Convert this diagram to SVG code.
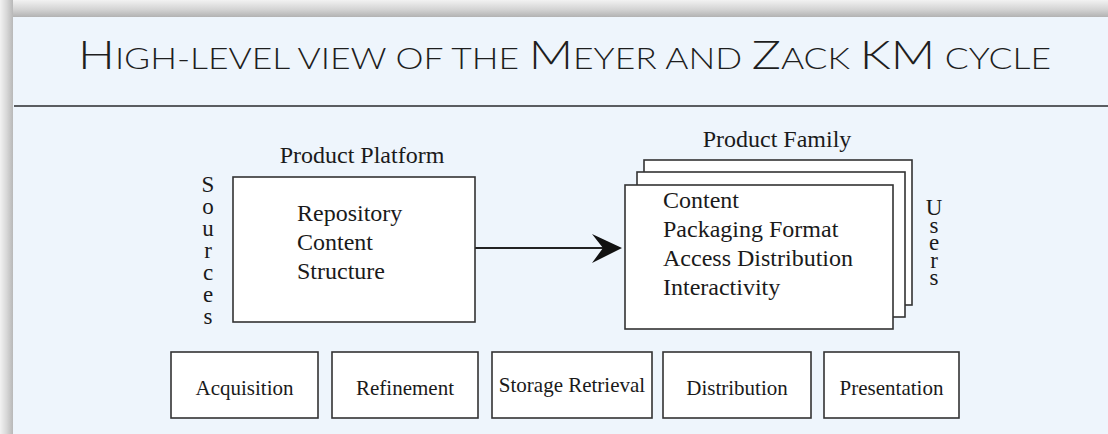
<svg xmlns="http://www.w3.org/2000/svg" width="1108" height="434" viewBox="0 0 1108 434">
  <defs>
    <linearGradient id="topEdge" x1="0" y1="0" x2="0" y2="1">
      <stop offset="0" stop-color="#f2f2f2"/>
      <stop offset="0.55" stop-color="#d4d4d4"/>
      <stop offset="1" stop-color="#b2b2b2"/>
    </linearGradient>
    <linearGradient id="leftEdge" x1="0" y1="0" x2="1" y2="0">
      <stop offset="0" stop-color="#f2f2f2"/>
      <stop offset="0.5" stop-color="#d8d8d8"/>
      <stop offset="1" stop-color="#b8b8b8"/>
    </linearGradient>
    <style>
      .box { fill: #ffffff; stroke: #333333; stroke-width: 1.6; }
      .serif { font-family: "Liberation Serif", "Times New Roman", serif; fill: #1a1a1a; }
      .lbl { font-size: 24px; }
      .step { font-size: 21px; text-anchor: middle; }
      .vert { writing-mode: vertical-rl; text-orientation: upright; }
      .title { font-family: Lato, "Liberation Sans", Arial, sans-serif; font-weight: 300; fill: #1e1e1e; }
      .conn { stroke: #222222; stroke-width: 2; fill: none; }
    </style>
  </defs>

  <!-- slide frame -->
  <rect x="0" y="0" width="1108" height="434" fill="#eef5fc"/>
  <rect x="0" y="0" width="1108" height="17" fill="url(#topEdge)"/>
  <rect x="0" y="0" width="13" height="434" fill="url(#leftEdge)"/>
  <line x1="14" y1="106" x2="1108" y2="106" stroke="#5a5d61" stroke-width="2.2"/>

  <!-- heading in small capitals -->
  <text class="title" x="78" y="69" textLength="973" lengthAdjust="spacingAndGlyphs"><tspan font-size="40">H</tspan><tspan font-size="29">IGH-LEVEL VIEW OF THE </tspan><tspan font-size="40">M</tspan><tspan font-size="29">EYER AND </tspan><tspan font-size="40">Z</tspan><tspan font-size="29">ACK </tspan><tspan font-size="40">KM</tspan><tspan font-size="29"> CYCLE</tspan></text>

  <!-- connectors -->
  <g id="connectors">
    <line class="conn" x1="475" y1="248" x2="604" y2="248"/>
    <path d="M622,248 L592,234 L603,248 L592,263 Z" fill="#111111"/>
  </g>

  <!-- product platform, fed by the sources -->
  <g id="sources">
    <text class="serif vert" x="208" y="172" font-size="23" letter-spacing="-3">Sources</text>
  </g>
  <g id="product-platform">
    <text class="serif lbl" x="362" y="163" text-anchor="middle">Product Platform</text>
    <rect class="box" x="233" y="177" width="242" height="145"/>
    <text class="serif lbl" x="297" y="221">Repository</text>
    <text class="serif lbl" x="297" y="250">Content</text>
    <text class="serif lbl" x="297" y="279">Structure</text>
  </g>

  <!-- product family (stacked sheets) -->
  <g id="product-family">
    <text class="serif lbl" x="777" y="147" text-anchor="middle">Product Family</text>
    <rect class="box" x="644" y="160" width="268" height="145"/>
    <rect class="box" x="637" y="172" width="268" height="145"/>
    <rect class="box" x="625" y="185" width="268" height="144"/>
    <text class="serif lbl" x="663" y="208">Content</text>
    <text class="serif lbl" x="663" y="237">Packaging Format</text>
    <text class="serif lbl" x="663" y="266">Access Distribution</text>
    <text class="serif lbl" x="663" y="295">Interactivity</text>
  </g>
  <g id="users">
    <text class="serif vert" x="934" y="195" font-size="23" letter-spacing="-7.5">Users</text>
  </g>

  <!-- cycle stages -->
  <g id="acquisition">
    <rect class="box" x="171" y="352" width="147" height="66"/>
    <text class="serif step" x="244.5" y="395">Acquisition</text>
  </g>
  <g id="refinement">
    <rect class="box" x="332" y="352" width="146" height="66"/>
    <text class="serif step" x="405" y="395">Refinement</text>
  </g>
  <g id="storage-retrieval">
    <rect class="box" x="492" y="352" width="160" height="66"/>
    <text class="serif step" x="572" y="392">Storage Retrieval</text>
  </g>
  <g id="distribution">
    <rect class="box" x="663" y="352" width="148" height="66"/>
    <text class="serif step" x="737" y="395">Distribution</text>
  </g>
  <g id="presentation">
    <rect class="box" x="824" y="352" width="135" height="66"/>
    <text class="serif step" x="891.5" y="395">Presentation</text>
  </g>
</svg>
